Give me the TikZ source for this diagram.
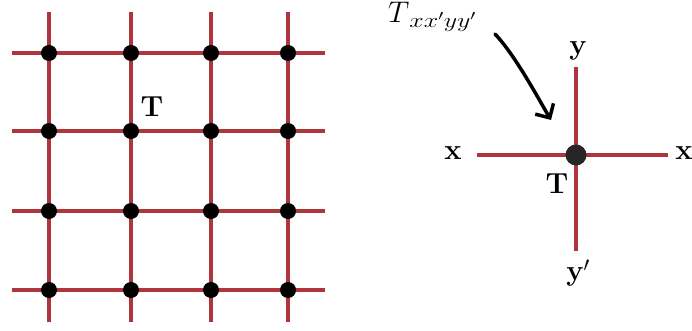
\documentclass[tikz,border=0pt]{standalone}
\usetikzlibrary{arrows.meta}

\definecolor{bondred}{RGB}{176,52,62}

\begin{document}
\begin{tikzpicture}[
        x=1pt, y=-1pt,
        bond/.style={draw=bondred, line width=4pt},
        site/.style={circle, fill=black, inner sep=0pt, minimum size=16pt},
        bigsite/.style={circle, fill=black!85, inner sep=0pt, minimum size=21pt},
        lab/.style={font=\fontsize{29}{31}\selectfont\bfseries, inner sep=0pt},
      ]
        \useasboundingbox (0,0) rectangle (692,331);

        % lattice of tensors
        \foreach \i/\px in {1/49,2/131,3/211,4/288} {
          \coordinate (top\i) at (\px,12);
          \coordinate (bot\i) at (\px,322);
          \draw[bond] (top\i) -- (bot\i);
        }
        \foreach \j/\py in {1/53,2/131,3/211,4/290} {
          \coordinate (lft\j) at (12,\py);
          \coordinate (rgt\j) at (325,\py);
          \draw[bond] (lft\j) -- (rgt\j);
        }
        \foreach \i/\px in {1/49,2/131,3/211,4/288} {
          \foreach \j/\py in {1/53,2/131,3/211,4/290} {
            \node[site] (s\i\j) at (\px,\py) {};
          }
        }
        \node[lab] (tl) at (152,107) {T};

        % single tensor
        \node[lab] (xl) at (453,153) {x};
        \node[lab] (xr) at (684,153) {x};
        \node[lab] (yt) at (578,51) {y};
        \node[lab] (yb) at (578,273) {y$'$};
        \coordinate (xa) at (477,155);
        \coordinate (xb) at (668,155);
        \coordinate (ya) at (576,67);
        \coordinate (yb2) at (576,251);
        \draw[bond] (xa) -- (xb);
        \draw[bond] (ya) -- (yb2);
        \node[bigsite] (t) at (576,155) {};
        \node[lab] (tr) at (557,184) {T};

        \node[inner sep=0pt, anchor=base west] (name) at (388,23)
          {\fontsize{24.88}{28}\selectfont\scalebox{1.2}{$T$}%
           \raisebox{-5pt}{\fontsize{20.74}{24}\selectfont\scalebox{1.25}[1]{$xx'yy'$}}};
        \coordinate (arrfrom) at (495,34);
        \coordinate (arrto) at (551,120);
        \draw[line width=3.5pt, line cap=round,
              -{Straight Barb[angle=90:15pt, line width=3.5pt]}]
          (arrfrom) .. controls (515,55) and (538,98) .. (arrto);
      \end{tikzpicture}
\end{document}
